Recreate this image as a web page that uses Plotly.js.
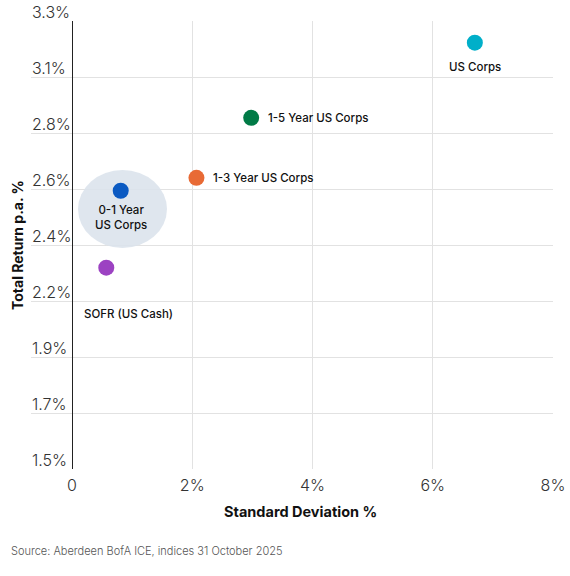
<!DOCTYPE html>
<html>
<head>
<meta charset="utf-8">
<script src="https://cdn.plot.ly/plotly-3.0.1.min.js"></script>
<style>
  html, body { margin: 0; padding: 0; background: #fff; }
  #chart { width: 570px; height: 576px; }
</style>
</head>
<body>
<div id="chart"></div>
<script>
// values
const names   = ['US Corps', '1-5 Year US Corps', '1-3 Year US Corps', '0-1 Year<br>US Corps', 'SOFR (US Cash)'];
const std_dev = [6.70, 2.98, 2.07, 0.81, 0.57];
const returns = [3.213, 2.911, 2.670, 2.618, 2.309];
const colors  = ['#00afc9', '#007a46', '#e86a35', '#0b5ac2', '#9c42c2'];

const y_ticks  = [1.5, 1.725, 1.95, 2.175, 2.4, 2.625, 2.85, 3.075, 3.3];
const y_labels = ['1.5%', '1.7%', '1.9%', '2.2%', '2.4%', '2.6%', '2.8%', '3.1%', '3.3%'];
const x_ticks  = [0, 2, 4, 6, 8];
const x_labels = ['0', '2%', '4%', '6%', '8%'];

// label placement (pixels from point)
const label_pos = [
    {xshift: 0,  yshift: -24, xanchor: 'center'},
    {xshift: 15, yshift: 0,   xanchor: 'left'},
    {xshift: 15, yshift: 0,   xanchor: 'left'},
    {xshift: 0,  yshift: -27, xanchor: 'center'},
    {xshift: -24, yshift: -46, xanchor: 'left'},
];

const font_main = 'Inter, "Open Sans", sans-serif';

let traces = [{
    x: std_dev, y: returns,
    type: 'scatter', mode: 'markers',
    marker: {size: 16, color: colors},
    hoverinfo: 'skip',
}];

let annotations = names.map((n, i) => ({
    x: std_dev[i], y: returns[i], xref: 'x', yref: 'y',
    text: n, showarrow: false,
    xshift: label_pos[i].xshift, yshift: label_pos[i].yshift,
    xanchor: label_pos[i].xanchor, yanchor: 'middle',
    font: {family: font_main, size: 11.5, color: '#111', weight: 500},
}));

// axis titles and source line
annotations.push({
    xref: 'paper', yref: 'paper', x: -0.0268, y: 0.5,
    xanchor: 'center', yanchor: 'middle', textangle: -90, showarrow: false,
    text: 'Total Return p.a. %',
    font: {family: font_main, size: 14, color: '#111', weight: 700},
});
annotations.push({
    xref: 'paper', yref: 'paper', x: 0.516, y: -0.095,
    xanchor: 'center', yanchor: 'middle', showarrow: false,
    text: 'Standard Deviation %',
    font: {family: font_main, size: 14.5, color: '#111', weight: 700},
});
annotations.push({
    xref: 'paper', yref: 'paper', x: -0.042, y: -0.183,
    xanchor: 'left', yanchor: 'middle', showarrow: false,
    text: 'Source: Aberdeen BofA ICE, indices 31 October 2025',
    font: {family: font_main, size: 11, color: '#555', weight: 300},
});

let layout = {
    width: 570, height: 576,
    margin: {l: 31, r: 17, t: 21, b: 107},
    paper_bgcolor: '#fff', plot_bgcolor: '#fff',
    showlegend: false,
    xaxis: {
        range: [-0.682, 8],
        tickvals: x_ticks, ticktext: x_labels,
        showgrid: true, gridcolor: '#e2e2e2', gridwidth: 1,
        zeroline: true, zerolinecolor: '#222', zerolinewidth: 1,
        showline: false, ticks: '',
        ticklabelstandoff: 5,
        tickfont: {family: font_main, size: 16, color: '#333', weight: 300},
        fixedrange: true,
    },
    yaxis: {
        range: [1.5, 3.3],
        tickvals: y_ticks, ticktext: y_labels,
        showgrid: true, gridcolor: '#e2e2e2', gridwidth: 1,
        zeroline: false, showline: false, ticks: '',
        ticklabelposition: 'inside', ticklabelshift: -9, ticklabelstandoff: -2,
        ticklabeloverflow: 'allow',
        tickfont: {family: font_main, size: 16, color: '#333', weight: 300},
        fixedrange: true,
    },
    shapes: [{
        type: 'circle', xref: 'x', yref: 'y', layer: 'between',
        x0: 0.10, x1: 1.58, y0: 2.388, y1: 2.701,
        fillcolor: '#dce3ec', line: {width: 0}, opacity: 0.9,
    }],
    annotations: annotations,
};

Plotly.newPlot('chart', traces, layout, {displayModeBar: false, staticPlot: true});
</script>
</body>
</html>
